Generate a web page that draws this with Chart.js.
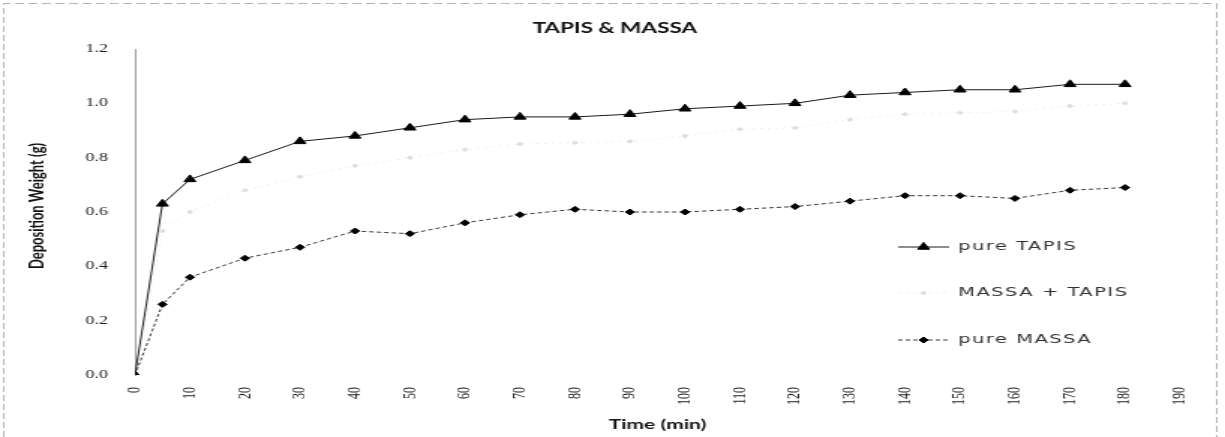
<!DOCTYPE html>
<html>
<head>
<meta charset="utf-8">
<script src="https://cdn.jsdelivr.net/npm/chart.js@4.4.1/dist/chart.umd.min.js"></script>
<style>
  body { margin: 0; background: #fff; }
  /* the scanned figure is stretched sideways, so draw narrow and stretch with css */
  #chart { display: block; width: 1225px !important; height: 437px !important; }
</style>
</head>
<body>
<canvas id="chart" width="817" height="437"></canvas>
<script>
const times = [0, 5, 10, 20, 30, 40, 50, 60, 70, 80, 90, 100, 110, 120, 130, 140, 150, 160, 170, 180]
const pureTapis = [0, 0.63, 0.72, 0.79, 0.86, 0.88, 0.91, 0.94, 0.95, 0.95, 0.96, 0.98, 0.99, 1.00, 1.03, 1.04, 1.05, 1.05, 1.07, 1.07]
const massaTapis = [0, 0.53, 0.60, 0.68, 0.73, 0.77, 0.80, 0.83, 0.85, 0.855, 0.86, 0.88, 0.905, 0.91, 0.94, 0.96, 0.965, 0.97, 0.99, 1.00]
const pureMassa = [0, 0.26, 0.36, 0.43, 0.47, 0.53, 0.52, 0.56, 0.59, 0.61, 0.60, 0.60, 0.61, 0.62, 0.64, 0.66, 0.66, 0.65, 0.68, 0.69]

const toPoints = (ys) => ys.map((y, i) => ({ x: times[i], y }))

// legend drawn inside the plot, like the excel one
const insideLegend = {
  id: 'insideLegend',
  afterDraw (chart) {
    const ctx = chart.ctx
    const rows = [247, 293, 340]
    chart.data.datasets.forEach((ds, i) => {
      const y = rows[i]
      ctx.save()
      ctx.strokeStyle = ds.borderColor
      ctx.lineWidth = ds.borderWidth
      ctx.setLineDash(ds.borderDash || [])
      ctx.beginPath()
      ctx.moveTo(599, y)
      ctx.lineTo(633, y)
      ctx.stroke()
      ctx.setLineDash([])
      ctx.fillStyle = ds.pointBackgroundColor
      ctx.strokeStyle = ds.pointBorderColor
      Chart.helpers.drawPoint(ctx, { pointStyle: ds.pointStyle, radius: ds.pointRadius, borderWidth: 1, rotation: 0 }, 616, y)
      ctx.fillStyle = '#333'
      ctx.font = '13px "DejaVu Sans"'
      ctx.letterSpacing = '1px'
      ctx.textBaseline = 'middle'
      ctx.textAlign = 'left'
      ctx.fillText(ds.label, 639, y)
      ctx.restore()
    })
  }
}

const frameAndTitles = {
  id: 'frameAndTitles',
  afterDraw (chart) {
    const ctx = chart.ctx
    ctx.save()
    ctx.strokeStyle = '#b5b5b5'
    ctx.lineWidth = 1
    ctx.setLineDash([6, 3])
    ctx.beginPath()
    ctx.moveTo(2.5, 437)
    ctx.lineTo(2.5, 3.5)
    ctx.lineTo(811.5, 3.5)
    ctx.lineTo(811.5, 437)
    ctx.stroke()
    ctx.setLineDash([])
    ctx.fillStyle = '#111'
    ctx.textAlign = 'center'
    ctx.textBaseline = 'middle'
    // chart title, centred on the whole figure
    ctx.font = 'bold 15px Lato'
    ctx.fillText('TAPIS & MASSA', 410, 28)
    // y axis title
    ctx.translate(25, 206)
    ctx.rotate(-Math.PI / 2)
    ctx.font = 'bold 13px Lato'
    ctx.fillText('Deposition Weight (g)', 0, 0)
    ctx.restore()
  }
}

const config = {
  type: 'line',
  data: {
    datasets: [
      {
        label: 'pure TAPIS',
        data: toPoints(pureTapis),
        borderColor: '#1a1a1a',
        borderWidth: 1,
        pointStyle: 'triangle',
        pointRadius: 4.5,
        pointBackgroundColor: '#000',
        pointBorderColor: '#000'
      },
      {
        label: 'MASSA + TAPIS',
        data: toPoints(massaTapis),
        borderColor: '#efefef',
        borderWidth: 1,
        borderDash: [2, 3],
        pointStyle: 'circle',
        pointRadius: 1.5,
        pointBackgroundColor: '#dedede',
        pointBorderColor: '#dedede'
      },
      {
        label: 'pure MASSA',
        data: toPoints(pureMassa),
        borderColor: '#3a3a3a',
        borderWidth: 1,
        borderDash: [3, 2],
        pointStyle: 'rectRot',
        pointRadius: 3,
        pointBackgroundColor: '#000',
        pointBorderColor: '#000'
      }
    ]
  },
  options: {
    responsive: false,
    animation: false,
    devicePixelRatio: 1,
    layout: { padding: { left: 0, right: 30, top: 49, bottom: 0 } },
    plugins: {
      legend: { display: false },
      tooltip: { enabled: false }
    },
    scales: {
      x: {
        type: 'linear',
        min: 0,
        max: 190,
        grid: { display: false, drawTicks: false },
        border: { display: false },
        ticks: {
          stepSize: 10,
          autoSkip: false,
          maxRotation: 90,
          minRotation: 90,
          padding: 12,
          color: '#222',
          font: { family: 'Liberation Serif', size: 12 }
        },
        title: {
          display: true,
          text: 'Time (min)',
          color: '#111',
          font: { family: 'Lato', size: 14, weight: 'bold', lineHeight: 1.2 },
          padding: { top: 0, bottom: 4 }
        },
        afterFit (scale) { scale.height = 62 }
      },
      y: {
        min: 0,
        max: 1.2,
        grid: { display: false, drawTicks: false },
        border: { display: true, color: '#9a9a9a', width: 1, dash: [2, 1] },
        ticks: {
          stepSize: 0.2,
          padding: 18,
          color: '#222',
          font: { family: 'Liberation Serif', size: 12 },
          callback: (v) => v.toFixed(1)
        },
        afterFit (scale) { scale.width = 90 }
      }
    }
  },
  plugins: [insideLegend, frameAndTitles]
}

new Chart(document.getElementById('chart').getContext('2d'), config)
</script>
</body>
</html>
